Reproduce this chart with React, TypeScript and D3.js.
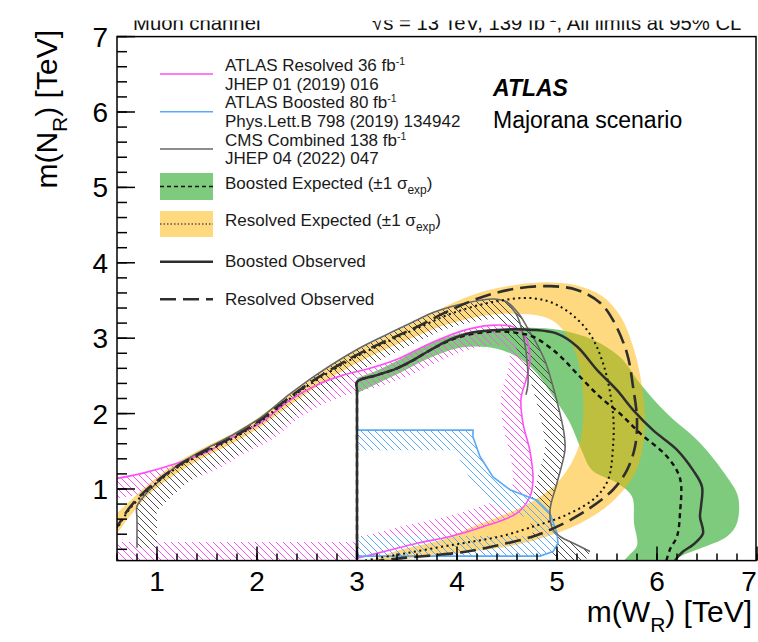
import * as d3 from 'd3';

type Pt = [number, number];

// axis ticks (TeV)
const xTicks = [1, 2, 3, 4, 5, 6, 7];
const yTicks = [1, 2, 3, 4, 5, 6, 7];

// Resolved channel, observed (long dash) and expected (dotted)
const resolvedObserved: Pt[] = [
  [0.55, 0.42], [0.6, 0.5], [0.73, 0.76], [0.93, 1.03], [1.2, 1.3], [1.5, 1.52], [1.76, 1.69],
  [2.03, 1.91], [2.33, 2.22], [2.6, 2.47], [3.0, 2.78], [3.3, 2.97], [3.6, 3.15], [3.93, 3.37],
  [4.26, 3.55], [4.6, 3.66], [4.93, 3.69], [5.2, 3.64], [5.43, 3.47], [5.56, 3.24], [5.7, 2.8],
  [5.76, 2.36], [5.8, 1.92], [5.78, 1.56], [5.7, 1.25], [5.56, 0.99], [5.3, 0.72], [5.0, 0.5],
  [4.76, 0.37], [4.43, 0.26], [4.1, 0.17], [3.76, 0.12], [3.43, 0.08], [3.2, 0.04], [3.1, 0.0],
];
const resolvedExpected: Pt[] = [
  [0.55, 0.4], [0.6, 0.48], [0.73, 0.74], [0.93, 1.01], [1.2, 1.28], [1.5, 1.5], [1.76, 1.67],
  [2.03, 1.89], [2.33, 2.2], [2.6, 2.45], [3.0, 2.76], [3.3, 2.95], [3.6, 3.13], [3.95, 3.33],
  [4.36, 3.48], [4.76, 3.53], [5.03, 3.42], [5.3, 3.11], [5.46, 2.67], [5.56, 2.0], [5.56, 1.56],
  [5.51, 1.12], [5.38, 0.88], [5.1, 0.66], [4.76, 0.5], [4.43, 0.37], [4.1, 0.29], [3.83, 0.23],
  [3.5, 0.15], [3.2, 0.08], [3.0, 0.03],
];
const resolvedBandOuter: Pt[] = [
  [0.55, 0.62], [0.6, 0.68], [0.73, 0.84], [0.93, 1.08], [1.2, 1.35], [1.5, 1.57], [1.76, 1.74],
  [2.03, 1.96], [2.33, 2.27], [2.6, 2.52], [3.0, 2.84], [3.3, 3.03], [3.6, 3.23], [3.93, 3.45],
  [4.26, 3.62], [4.6, 3.71], [4.93, 3.74], [5.2, 3.7], [5.45, 3.56], [5.63, 3.3], [5.77, 2.85],
  [5.85, 2.36], [5.88, 1.92], [5.85, 1.5], [5.76, 1.16], [5.5, 0.77], [5.16, 0.5], [4.66, 0.28],
  [4.16, 0.17], [3.83, 0.12], [3.43, 0.06], [3.1, -0.02],
];
const resolvedBandInner: Pt[] = [
  [3.0, -0.02], [3.4, 0.18], [3.83, 0.32], [4.16, 0.5], [4.66, 0.77], [5.0, 1.08], [5.2, 1.5],
  [5.26, 1.9], [5.24, 2.5], [5.14, 2.95], [4.93, 3.25], [4.43, 3.32], [3.95, 3.2], [3.6, 3.03],
  [3.3, 2.86], [3.0, 2.67], [2.6, 2.36], [2.33, 2.11], [2.03, 1.82], [1.76, 1.61], [1.5, 1.44],
  [1.2, 1.21], [0.93, 0.94], [0.73, 0.64], [0.6, 0.41], [0.55, 0.34],
];

// Boosted channel, observed (solid) and expected (short dash)
const boostedObserved: Pt[] = [
  [3.0, -0.02], [3.0, 2.3], [3.0, 2.42], [3.2, 2.51], [3.4, 2.6], [3.55, 2.7], [3.73, 2.84],
  [3.93, 2.98], [4.13, 3.07], [4.4, 3.11], [4.76, 3.11], [5.0, 3.06], [5.2, 2.89], [5.4, 2.58],
  [5.6, 2.31], [5.76, 2.05], [5.96, 1.78], [6.2, 1.52], [6.36, 1.25], [6.45, 1.03], [6.44, 0.77],
  [6.43, 0.63], [6.46, 0.41], [6.36, 0.26], [6.26, 0.17], [6.18, 0.05], [6.16, -0.02],
];
const boostedExpected: Pt[] = [
  [3.0, -0.02], [3.0, 2.3], [3.0, 2.42], [3.2, 2.51], [3.4, 2.6], [3.55, 2.7], [3.73, 2.84],
  [3.93, 2.97], [4.13, 3.05], [4.4, 3.09], [4.6, 3.07], [4.76, 3.02], [5.0, 2.8], [5.2, 2.53],
  [5.43, 2.22], [5.63, 2.0], [5.83, 1.74], [6.1, 1.43], [6.23, 1.14], [6.23, 0.68], [6.2, 0.37],
  [6.13, 0.2], [6.08, -0.02],
];
const boostedBandOuter: Pt[] = [
  [3.0, 2.47], [3.2, 2.57], [3.4, 2.7], [3.73, 2.93], [4.06, 3.07], [4.4, 3.12], [4.73, 3.14],
  [5.03, 3.11], [5.36, 2.98], [5.63, 2.75], [5.83, 2.4], [6.1, 2.0], [6.43, 1.61], [6.7, 1.16],
  [6.81, 0.9], [6.8, 0.55], [6.7, 0.37], [6.43, 0.21], [6.23, 0.1], [6.12, -0.05],
];
const boostedBandInner: Pt[] = [
  [5.6, -0.05], [5.72, 0.12], [5.8, 0.25], [5.77, 0.55], [5.75, 0.9], [5.6, 1.08], [5.35, 1.25],
  [5.25, 1.5], [5.12, 1.9], [4.95, 2.25], [4.82, 2.5], [4.64, 2.72], [4.4, 2.86], [4.06, 2.88],
  [3.73, 2.74], [3.4, 2.52], [3.0, 2.27],
];

// previous results
const atlasResolved36: Pt[] = [
  [0.55, 1.13], [0.6, 1.14], [0.86, 1.21], [1.2, 1.34], [1.5, 1.49], [1.76, 1.69], [2.03, 1.87],
  [2.33, 2.18], [2.6, 2.38], [2.86, 2.51], [3.13, 2.6], [3.4, 2.72], [3.73, 2.93], [4.06, 3.1],
  [4.33, 3.17], [4.56, 3.15], [4.68, 3.02], [4.73, 2.75], [4.7, 2.49], [4.64, 2.2], [4.66, 1.87],
  [4.73, 1.5], [4.76, 1.12], [4.73, 0.9], [4.6, 0.68], [4.26, 0.5], [3.93, 0.37], [3.6, 0.28],
  [3.3, 0.18], [3.0, 0.08],
];
const atlasResolved36Low: Pt[] = [[0.5, 0.03], [3.0, 0.03]];
const atlasBoosted80: Pt[] = [
  [3.0, 1.78], [4.16, 1.78], [4.16, 1.69], [4.23, 1.43], [4.36, 1.16], [4.53, 0.99], [4.8, 0.85],
  [4.93, 0.68], [5.0, 0.41], [5.01, 0.28], [4.96, 0.17], [4.83, 0.11], [3.0, 0.11],
];
const cmsCombined: Pt[] = [
  [0.8, 0.22], [0.8, 0.6], [0.8, 0.77], [0.88, 0.92], [1.0, 1.08], [1.2, 1.31], [1.5, 1.54],
  [1.76, 1.72], [2.03, 1.94], [2.33, 2.26], [2.6, 2.52], [3.0, 2.85], [3.3, 3.05], [3.6, 3.24],
  [3.76, 3.34], [4.1, 3.47], [4.36, 3.52], [4.5, 3.48], [4.62, 3.32], [4.72, 3.1], [4.8, 2.92],
  [4.88, 2.7], [4.96, 2.36], [5.03, 2.0], [5.07, 1.74], [5.08, 1.52], [5.0, 1.08], [4.93, 0.72],
  [4.96, 0.46], [5.03, 0.37], [5.18, 0.27], [5.33, 0.17],
];
const cmsBranch: Pt[] = [[4.5, 3.48], [4.6, 3.3], [4.66, 3.05], [4.7, 2.7], [4.71, 2.4], [4.69, 2.25]];

// points that close each excluded region for the hatching side
const atlasResolved36Closure: Pt[] = [[3.0, -1], [0.3, -1], [0.3, 1.13]];
const cmsClosure: Pt[] = [[5.33, -1], [0.8, -1]];

const dark = '#2e2e2e';
const pink = '#ff50f5';
const blue = '#5aa9f7';
const grey = '#676767';
const green = 'rgb(126,203,126)';
const yellow = 'rgb(255,180,0)';
const font = "'Liberation Sans', Arial, Helvetica, sans-serif";

export default function App() {
  const x = d3.scaleLinear().domain([0.6, 7.0]).range([117, 757]);
  const y = d3.scaleLinear().domain([0.05, 7.0]).range([560.6, 36.6]);

  const smooth = d3.line<Pt>().x(d => x(d[0])).y(d => y(d[1])).curve(d3.curveCatmullRom.alpha(0.5));
  const straight = d3.line<Pt>().x(d => x(d[0])).y(d => y(d[1]));
  const join = (a: string, b: string) => a + b.replace(/^M/, 'L');
  const band = (outer: Pt[], inner: Pt[]) => join(smooth(outer)!, smooth(inner)!) + 'Z';
  const region = (pts: Pt[], extra: Pt[]) => join(smooth(pts)!, straight(extra)!) + 'Z';

  const xMinor = d3.range(3, 36).map(i => i * 0.2);
  const yMinor = d3.range(1, 36).map(i => i * 0.2);

  // "\\\" hatching like ROOT fill style 3354
  const hatch = (id: string, color: string) => (
    <pattern id={id} width={7} height={7} patternUnits="userSpaceOnUse">
      <path d="M0,0L7,7M-1,6L1,8M6,-1L8,1" stroke={color} strokeWidth={1} fill="none" />
    </pattern>
  );

  const lx0 = 160, lx1 = 213, tx = 225;

  return (
    <svg width={758} height={642} style={{ position: 'absolute', left: 0, top: 0, background: 'white' }}
      fontFamily={font}>
      <defs>
        {hatch('hPink', pink)}
        {hatch('hBlue', blue)}
        {hatch('hGrey', '#4a4a4a')}
        <clipPath id="plot"><rect x={117} y={36.6} width={640} height={524} /></clipPath>
        <clipPath id="head"><rect x={0} y={20.5} width={758} height={16} /></clipPath>
        <clipPath id="cPink"><path d={region(atlasResolved36, atlasResolved36Closure)} /></clipPath>
        <clipPath id="cGrey"><path d={region(cmsCombined, cmsClosure)} /></clipPath>
        <clipPath id="cBlue"><path d={straight(atlasBoosted80)! + 'Z'} /></clipPath>
      </defs>
      <rect width={758} height={642} fill="white" />

      <g clipPath="url(#plot)">
        <path d={band(boostedBandOuter, boostedBandInner)} fill={green} />
        <path d={band(resolvedBandOuter, resolvedBandInner)} fill={yellow} fillOpacity={0.5} />

        <g clipPath="url(#cPink)" fill="none" stroke="url(#hPink)" strokeWidth={40}>
          <path d={smooth(atlasResolved36)!} />
          <path d={straight(atlasResolved36Low)!} />
        </g>
        <g clipPath="url(#cGrey)">
          <path d={smooth(cmsCombined)!} fill="none" stroke="url(#hGrey)" strokeWidth={40} />
        </g>
        <g clipPath="url(#cBlue)">
          <path d={straight(atlasBoosted80)!} fill="none" stroke="url(#hBlue)" strokeWidth={40} />
        </g>

        <path d={smooth(atlasResolved36)!} fill="none" stroke={pink} strokeWidth={1.6} />
        <path d={straight(atlasBoosted80)!} fill="none" stroke={blue} strokeWidth={1.6} />
        <path d={smooth(cmsCombined)!} fill="none" stroke={grey} strokeWidth={1.6} />
        <path d={smooth(cmsBranch)!} fill="none" stroke={grey} strokeWidth={1.6} />

        <path d={smooth(resolvedExpected)!} fill="none" stroke="#111" strokeWidth={2} strokeDasharray="2,3.5" />
        <path d={smooth(resolvedObserved)!} fill="none" stroke={dark} strokeWidth={2.6} strokeDasharray="16,7" />
        <path d={smooth(boostedExpected)!} fill="none" stroke="#111" strokeWidth={2.4} strokeDasharray="5,4" />
        <path d={smooth(boostedObserved)!} fill="none" stroke={dark} strokeWidth={2.5} />
      </g>

      {/* frame and ticks */}
      <rect x={117} y={36.6} width={639} height={524} fill="none" stroke="black" strokeWidth={1.5} />
      {xMinor.map(v => (
        <line key={'xm' + v} x1={x(v)} x2={x(v)} y1={560.6} y2={553.6} stroke="black" strokeWidth={1.5} />
      ))}
      {xTicks.map(v => (
        <line key={'xM' + v} x1={x(v)} x2={x(v)} y1={560.6} y2={546.6} stroke="black" strokeWidth={1.5} />
      ))}
      {yMinor.map(v => (
        <line key={'ym' + v} x1={117} x2={127} y1={y(v)} y2={y(v)} stroke="black" strokeWidth={1.5} />
      ))}
      {yTicks.map(v => (
        <line key={'yM' + v} x1={117} x2={135} y1={y(v)} y2={y(v)} stroke="black" strokeWidth={1.5} />
      ))}
      {xTicks.map(v => (
        <text key={'xl' + v} x={Math.min(x(v), 749)} y={591} textAnchor="middle" fontSize={28}>{v}</text>
      ))}
      {yTicks.map(v => (
        <text key={'yl' + v} x={108} y={y(v) + 10} textAnchor="end" fontSize={28}>{v}</text>
      ))}

      {/* axis titles */}
      <text x={752} y={622} textAnchor="end" fontSize={30}>
        m(W<tspan dy={10} fontSize={21}>R</tspan><tspan dy={-10}>) [TeV]</tspan>
      </text>
      <text transform="translate(57,30) rotate(-90)" textAnchor="end" fontSize={30}>
        m(N<tspan dy={10} fontSize={21}>R</tspan><tspan dy={-10}>) [TeV]</tspan>
      </text>

      {/* header, cut at the top as in the original */}
      <g clipPath="url(#head)" fontSize={20.3} fill="#111">
        <text x={133} y={29.5}>Muon channel</text>
        <text x={372} y={29.5}>
          √s = 13 TeV, 139 fb<tspan dy={-8} fontSize={13}>-1</tspan><tspan dy={8}>, All limits at 95% CL</tspan>
        </text>
      </g>

      <text x={493} y={96} fontSize={23} fontWeight="bold" fontStyle="italic">ATLAS</text>
      <text x={493} y={127.7} fontSize={23}>Majorana scenario</text>

      {/* legend */}
      <g fontSize={17} fill="#1a1a1a">
        <line x1={lx0} x2={lx1} y1={74} y2={74} stroke={pink} strokeWidth={1.6} />
        <text x={tx} y={71}>ATLAS Resolved 36 fb<tspan dy={-6} fontSize={10.5}>-1</tspan></text>
        <text x={tx} y={89.5}>JHEP 01 (2019) 016</text>
        <line x1={lx0} x2={lx1} y1={111.7} y2={111.7} stroke={blue} strokeWidth={1.6} />
        <text x={tx} y={107.5}>ATLAS Boosted 80 fb<tspan dy={-6} fontSize={10.5}>-1</tspan></text>
        <text x={tx} y={127}>Phys.Lett.B 798 (2019) 134942</text>
        <line x1={lx0} x2={lx1} y1={149} y2={149} stroke={grey} strokeWidth={1.6} />
        <text x={tx} y={145.5}>CMS Combined 138 fb<tspan dy={-6} fontSize={10.5}>-1</tspan></text>
        <text x={tx} y={163.7}>JHEP 04 (2022) 047</text>

        <rect x={lx0} y={173} width={lx1 - lx0} height={27} fill={green} />
        <line x1={lx0} x2={lx1} y1={186.5} y2={186.5} stroke="#111" strokeWidth={1.5} strokeDasharray="4,3" />
        <text x={tx} y={189}>Boosted Expected (±1 σ<tspan dy={5} fontSize={12}>exp</tspan><tspan dy={-5}>)</tspan></text>

        <rect x={lx0} y={211} width={lx1 - lx0} height={26} fill={yellow} fillOpacity={0.5} />
        <line x1={lx0} x2={lx1} y1={224} y2={224} stroke="#111" strokeWidth={1} strokeDasharray="1.5,2" />
        <text x={tx} y={226}>Resolved Expected (±1 σ<tspan dy={5} fontSize={12}>exp</tspan><tspan dy={-5}>)</tspan></text>

        <line x1={lx0} x2={lx1} y1={261.7} y2={261.7} stroke={dark} strokeWidth={2.6} />
        <text x={tx} y={267}>Boosted Observed</text>
        <line x1={lx0} x2={lx1} y1={299.3} y2={299.3} stroke={dark} strokeWidth={2.6} strokeDasharray="16,7" />
        <text x={tx} y={304.7}>Resolved Observed</text>
      </g>
    </svg>
  );
}
